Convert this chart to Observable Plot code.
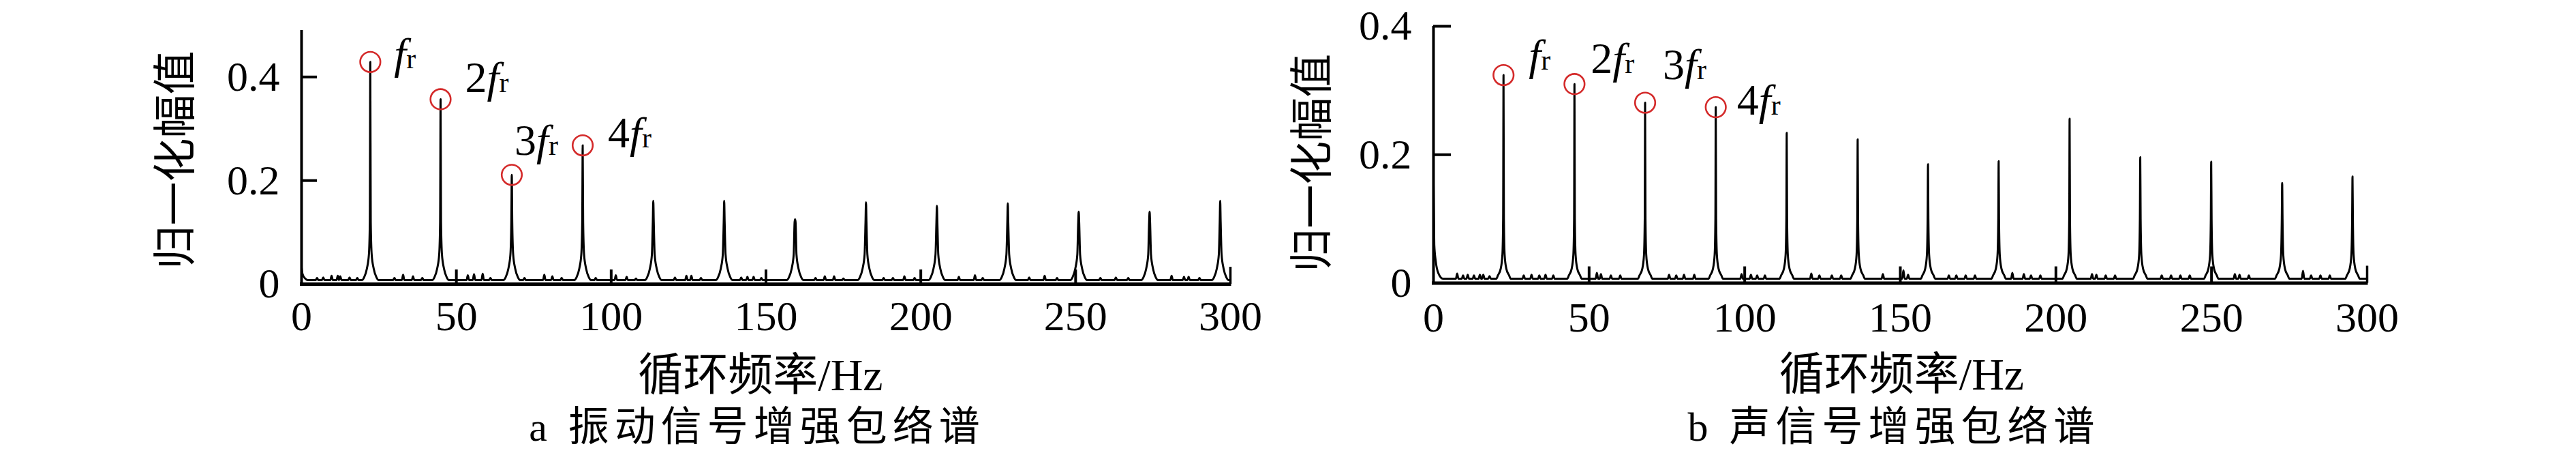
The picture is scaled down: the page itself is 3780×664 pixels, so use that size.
<!DOCTYPE html>
<html><head><meta charset="utf-8">
<script src="https://cdn.jsdelivr.net/npm/d3@7"></script>
<script src="https://cdn.jsdelivr.net/npm/@observablehq/plot@0.6"></script>
<style>
html,body{margin:0;padding:0;background:#fff;}
#page{position:relative;width:3780px;height:664px;overflow:hidden;background:#fff;}
.panel{position:absolute;top:0;width:1890px;height:590px;}
.cap{position:absolute;bottom:1px;font-family:"Liberation Serif","Noto Sans CJK SC",serif;font-size:60px;line-height:normal;white-space:nowrap;text-align:center;width:1000px;letter-spacing:8px;word-spacing:0px;color:#000;}
</style></head><body><div id="page"></div>
<script>
// ---------- data ----------
const xTicks = [0, 50, 100, 150, 200, 250, 300];
const yTicks = [0, 0.2, 0.4];
const xLabel = "循环频率/Hz";
const yLabel = "归一化幅值";
const captionA = "a 振动信号增强包络谱";
const captionB = "b 声信号增强包络谱";
const harmonicPrefix = ["", "2", "3", "4"];

// panel a: vibration signal
const peakFreqA = [22.2, 44.9, 67.9, 90.8, 113.6, 136.5, 159.4, 182.3, 205.2, 228.1, 251.0, 273.9, 296.7];
const peakAmpA  = [0.429, 0.357, 0.211, 0.268, 0.161, 0.161, 0.125, 0.158, 0.151, 0.156, 0.140, 0.140, 0.161];
const floorA = 0.008;
const dcFreqA = [0, 0.3, 1.0, 2.0];
const dcAmpA  = [0.032, 0.020, 0.012, 0.008];
const shoulderOffA = [2.6, 2.0, 1.1, 0.45, 0.15];
const shoulderAmpA = [0.008, 0.013, 0.030, 0.057, 0.120];
const spikeFreqA = [5, 7, 9.7, 11.7, 12.5, 15.5, 18, 30, 32.8, 36, 39, 53.7, 55.7, 58.5, 61, 72, 78.4, 81, 84, 95, 101.5, 105, 108,
  120.6, 124.3, 125.9, 129, 142, 144, 146, 148.5, 166, 169, 172, 175, 188, 191, 194.7, 198, 212.3, 217.5, 220, 235, 240, 244,
  258, 263, 267, 281, 285, 286.5, 290];
const spikeAmpA = [0.012, 0.013, 0.016, 0.016, 0.015, 0.013, 0.012, 0.012, 0.018, 0.015, 0.012, 0.017, 0.019, 0.020, 0.012, 0.012, 0.018, 0.015, 0.012, 0.012, 0.017, 0.014, 0.011,
  0.013, 0.016, 0.016, 0.012, 0.013, 0.014, 0.014, 0.012, 0.012, 0.015, 0.015, 0.011, 0.012, 0.012, 0.015, 0.012, 0.014, 0.017, 0.012, 0.013, 0.016, 0.012,
  0.012, 0.013, 0.012, 0.016, 0.014, 0.014, 0.012];

// panel b: acoustic signal
const peakFreqB = [22.5, 45.3, 68.0, 90.7, 113.5, 136.3, 158.9, 181.6, 204.4, 227.1, 249.9, 272.7, 295.3];
const peakAmpB  = [0.324, 0.310, 0.281, 0.274, 0.234, 0.224, 0.185, 0.190, 0.256, 0.196, 0.189, 0.156, 0.166];
const floorB = 0.007;
const dcFreqB = [0, 0.25, 0.7, 1.6, 3.0];
const dcAmpB  = [0.155, 0.060, 0.035, 0.015, 0.007];
const shoulderOffB = [2.3, 1.8, 0.9, 0.36, 0.12];
const shoulderAmpB = [0.007, 0.012, 0.0225, 0.044, 0.100];
const spikeFreqB = [7.6, 9.5, 11, 13, 14.9, 16, 18, 29, 31.5, 34, 36, 38.5, 52.5, 53.8, 57, 60, 75.7, 78, 80.5, 83.8, 93.2, 99, 102, 104, 106.5,
  121.4, 124, 128, 131, 144.4, 151, 152.5, 165.6, 168, 171, 174, 186, 189.7, 192, 195, 211.6, 213, 216, 219, 234, 237, 240, 243,
  257.5, 259, 262, 279.4, 282, 285, 288];
const spikeAmpB = [0.015, 0.012, 0.013, 0.012, 0.013, 0.013, 0.011, 0.012, 0.013, 0.012, 0.013, 0.012, 0.016, 0.014, 0.012, 0.012, 0.013, 0.012, 0.013, 0.013, 0.021, 0.014, 0.013, 0.012, 0.012,
  0.015, 0.012, 0.012, 0.012, 0.014, 0.020, 0.013, 0.012, 0.012, 0.012, 0.012, 0.016, 0.014, 0.012, 0.012, 0.014, 0.013, 0.012, 0.012, 0.012, 0.012, 0.012, 0.012,
  0.014, 0.013, 0.012, 0.019, 0.012, 0.012, 0.012];

// ---------- assemble spectrum rows from the read values ----------
function spectrum(dcF, dcV, pF, pV, sOff, sAmp, kF, kV, floor) {
  const rows = dcF.map((f, i) => ({f, v: dcV[i]}));
  pF.forEach((pf, i) => {
    sOff.forEach((o, j) => rows.push({f: pf - o, v: sAmp[j]}));
    rows.push({f: pf, v: pV[i]});
    sOff.forEach((o, j) => rows.push({f: pf + o, v: sAmp[j]}));
  });
  kF.forEach((f, i) => {
    if (pF.some(p => Math.abs(p - f) < sOff[0] + 0.3)) return;
    rows.push({f: f - 0.4, v: floor}, {f, v: kV[i]}, {f: f + 0.4, v: floor});
  });
  rows.push({f: 300, v: floor});
  return rows.sort((a, b) => a.f - b.f);
}

const serif = "Liberation Serif";
const cjk = "Liberation Serif, Noto Sans CJK SC";

function panel(cfg) {
  const {rows, pF, pV, yMax, mL, mR, mT, mB, tickLen, endTick, yTickLen, labelOff, yLab, xLab, xPad} = cfg;
  const W = 1890, H = 590;
  const plotW = W - mL - mR, plotH = H - mT - mB;
  const annot = [0, 1, 2, 3].map(i => ({f: pF[i], v: pV[i], i}));
  const labelMarks = [];
  annot.forEach((d, k) => {
    const [ox, oy] = labelOff[k];
    const pre = harmonicPrefix[k];
    const preW = pre ? 32 : 0;
    if (pre) labelMarks.push(Plot.text([d], {x: "f", y: "v", text: () => pre, textAnchor: "start", lineAnchor: "bottom", dx: ox, dy: oy, fontSize: 64, fontFamily: serif}));
    labelMarks.push(Plot.text([d], {x: "f", y: "v", text: () => "f", textAnchor: "start", lineAnchor: "bottom", dx: ox + preW, dy: oy, fontSize: 64, fontFamily: serif, fontStyle: "italic"}));
    labelMarks.push(Plot.text([d], {x: "f", y: "v", text: () => "r", textAnchor: "start", lineAnchor: "bottom", dx: ox + preW + 18, dy: oy, fontSize: 42, fontFamily: serif}));
  });
  return Plot.plot({
    width: W, height: H,
    marginLeft: mL, marginRight: mR, marginTop: mT, marginBottom: mB,
    x: {domain: [0, 300]},
    y: {domain: [0, yMax]},
    style: {fontFamily: serif, fontSize: "62px", color: "#000", background: "transparent", overflow: "visible"},
    marks: [
      Plot.line(rows, {x: "f", y: "v", stroke: "#000", strokeWidth: 3, curve: "monotone-x"}),
      Plot.ruleX([0], {strokeWidth: 4, stroke: "#000"}),
      Plot.ruleY([0], {strokeWidth: 5, stroke: "#000", insetLeft: -2, insetRight: -1.5}),
      Plot.ruleX(xTicks.filter(t => t > 0 && t < 300), {x: d => d, insetTop: plotH - tickLen, strokeWidth: 4, stroke: "#000"}),
      Plot.ruleX([300], {x: d => d, insetTop: plotH - endTick, strokeWidth: 3.5, stroke: "#000"}),
      Plot.ruleY(yTicks.filter(t => t > 0), {y: d => d, insetRight: plotW - yTickLen, strokeWidth: 4, stroke: "#000"}),
      Plot.axisX({ticks: xTicks, tickFormat: d => String(d), tickSize: 0, tickPadding: xPad, label: null, fontSize: 62}),
      Plot.axisY({ticks: yTicks, tickFormat: d => String(d), tickSize: 0, tickPadding: 32, label: null, fontSize: 62}),
      Plot.text([yLabel], {text: d => d, frameAnchor: "left", textAnchor: "middle", lineAnchor: "middle", rotate: -90, dx: yLab[0], dy: yLab[1], fontSize: 64, fontFamily: "Noto Sans CJK SC"}),
      Plot.text([xLabel], {text: d => d, frameAnchor: "bottom", textAnchor: "middle", lineAnchor: "middle", dx: xLab[0], dy: xLab[1], fontSize: 66, fontFamily: cjk}),
      Plot.dot(annot, {x: "f", y: "v", r: 14.8, stroke: "#d42a2a", strokeWidth: 2.6, fill: "none"}),
      ...labelMarks
    ]
  });
}

const page = document.getElementById("page");

const pa = document.createElement("div"); pa.className = "panel"; pa.style.left = "0px";
pa.appendChild(panel({
  rows: spectrum(dcFreqA, dcAmpA, peakFreqA, peakAmpA, shoulderOffA, shoulderAmpA, spikeFreqA, spikeAmpA, floorA),
  pF: peakFreqA, pV: peakAmpA, yMax: 0.49,
  mL: 442, mR: 85, mT: 44, mB: 174,
  tickLen: 21, endTick: 25, yTickLen: 23,
  labelOff: [[35, 9], [36, -10], [4, -29], [37, 3]],
  yLab: [-184, 4], xLab: [-8, 134], xPad: 23
}));
page.appendChild(pa);

const pb = document.createElement("div"); pb.className = "panel"; pb.style.left = "1890px";
pb.appendChild(panel({
  rows: spectrum(dcFreqB, dcAmpB, peakFreqB, peakAmpB, shoulderOffB, shoulderAmpB, spikeFreqB, spikeAmpB, floorB),
  pF: peakFreqB, pV: peakAmpB, yMax: 0.4,
  mL: 213, mR: 307, mT: 38, mB: 175.5,
  tickLen: 24, endTick: 25, yTickLen: 26,
  labelOff: [[37, -8], [24, -16], [26, -35], [31, 11]],
  yLab: [-177, 12], xLab: [2, 134.5], xPad: 27
}));
page.appendChild(pb);

const ca = document.createElement("div"); ca.className = "cap"; ca.textContent = captionA;
ca.style.left = (1111 - 500) + "px";
page.appendChild(ca);
const cb = document.createElement("div"); cb.className = "cap"; cb.textContent = captionB;
cb.style.left = (2779 - 500) + "px";
page.appendChild(cb);
</script></body></html>
